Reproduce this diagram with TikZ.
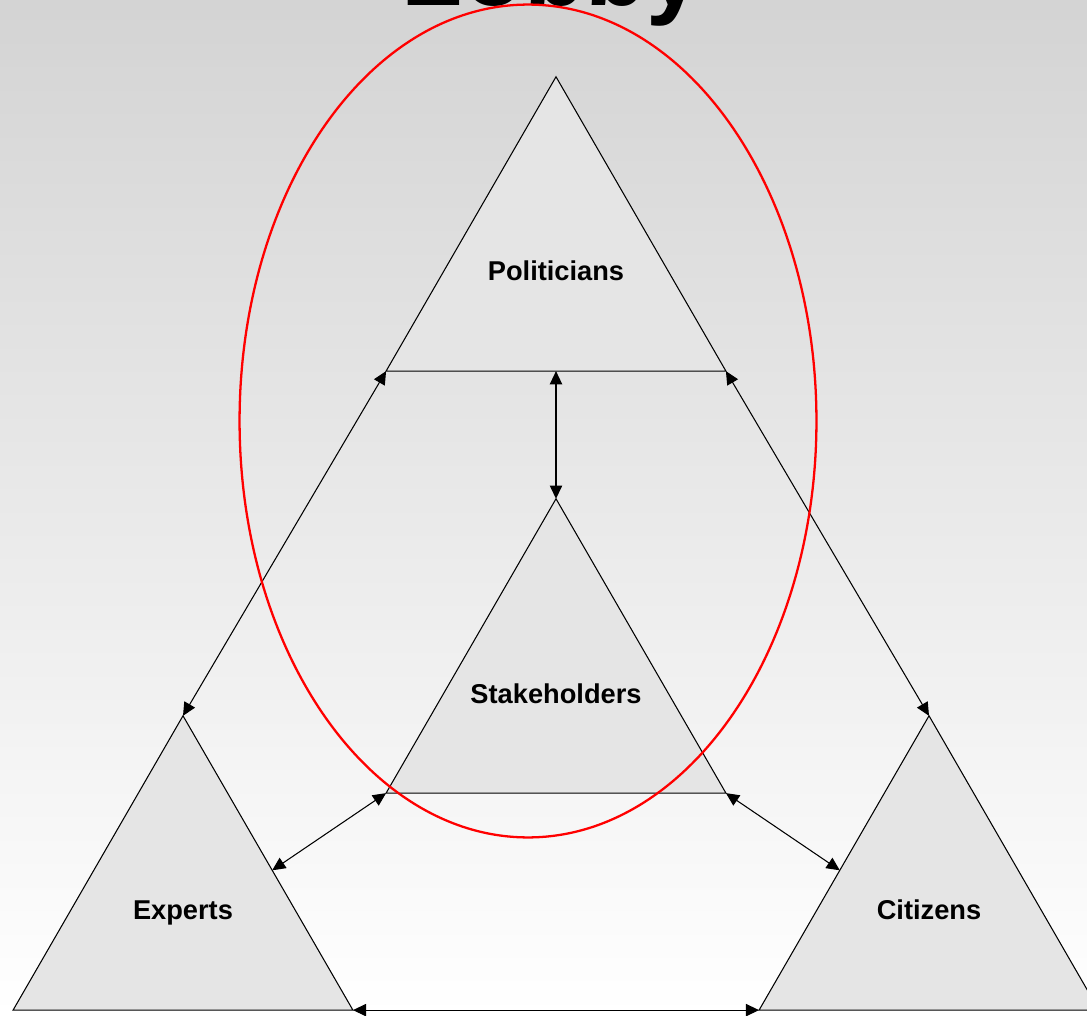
\documentclass[tikz,border=0pt]{standalone}
\usepackage{fontspec}
\setmainfont{Liberation Sans}
\usetikzlibrary{shapes.geometric,arrows.meta,calc}

\begin{document}
\begin{tikzpicture}[
    x=0.02cm, y=-0.02cm,
    actor/.style={regular polygon, regular polygon sides=3, draw, line width=0.6pt, fill=black!10, minimum size=7.85cm, inner sep=0pt, outer sep=0pt},
    actorname/.style={font=\fontsize{15.5}{18}\selectfont\bfseries, text height=11pt, text depth=0pt, inner sep=0pt},
    link/.style={{Triangle[length=7.5pt,width=7pt]}-{Triangle[length=7.5pt,width=7pt]}, line width=0.6pt},
    heading/.style={font=\fontsize{57}{60}\selectfont\bfseries, anchor=base},
    lobbyring/.style={ellipse, draw=red, line width=1.3pt, minimum width=11.54cm, minimum height=16.66cm}
]

% Page and background
\useasboundingbox (0,0) rectangle (1087,1016);
\clip (0,0) rectangle (1087,1016);
\shade[top color=black!17, bottom color=white] (0,0) rectangle (1087,1016);

% Title
\node[heading] (title) at (552,6) {Lobby};

% Actors
\node[actor] (pol) at (556,273) {};
\node[actor] (stk) at (556,695) {};
\node[actor] (exp) at (183,912) {};
\node[actor] (cit) at (929,912) {};

\node[actorname] (pol-name) at (556,271) {Politicians};
\node[actorname] (stk-name) at (556,694) {Stakeholders};
\node[actorname] (exp-name) at (183,910) {Experts};
\node[actorname] (cit-name) at (929,910) {Citizens};

% Points on the lower triangles
\coordinate (exp-side) at ($(exp.corner 1)!0.525!(exp.corner 3)$);
\coordinate (cit-side) at ($(cit.corner 1)!0.525!(cit.corner 2)$);

% Links
\draw[link] (pol.corner 2) -- (exp.corner 1);
\draw[link] (pol.corner 3) -- (cit.corner 1);
\draw[link] (pol.side 2) -- (stk.corner 1);
\draw[link] (stk.corner 2) -- (exp-side);
\draw[link] (stk.corner 3) -- (cit-side);
\draw[link] (exp.corner 3) -- (cit.corner 2);

% Lobby ring
\node[lobbyring] (lobby) at (528,421) {};

\end{tikzpicture}
\end{document}
